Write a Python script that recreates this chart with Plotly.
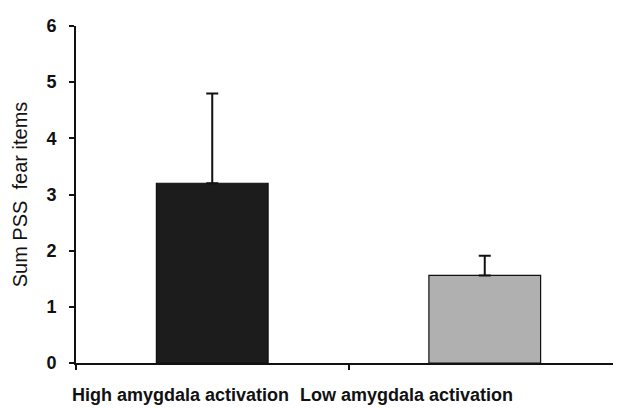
import plotly.graph_objects as go

categories = ["High amygdala activation", "Low amygdala activation"]
means = [3.2, 1.56]
errors_up = [1.6, 0.35]
bar_colors = ["#1c1c1c", "#b0b0b0"]
y_ticks = [0, 1, 2, 3, 4, 5, 6]
label_shifts = [-32, -78]

fig = go.Figure()
fig.add_trace(go.Bar(
    x=categories, y=means, width=0.41,
    marker=dict(color=bar_colors, line=dict(color="#111111", width=1.2)),
    error_y=dict(type="data", array=errors_up, arrayminus=[0, 0], symmetric=False,
                 color="#111111", thickness=2, width=6),
    showlegend=False,
))

for cat, sh in zip(categories, label_shifts):
    fig.add_annotation(
        x=cat, xref="x", y=0, yref="paper", yanchor="top", yshift=-20,
        xshift=sh, text=cat, showarrow=False,
        font=dict(size=18, family="Liberation Sans, Arial, sans-serif",
                  weight="bold", color="#111111"),
    )

fig.update_layout(
    width=621, height=408,
    margin=dict(l=68, r=8, t=14, b=53),
    paper_bgcolor="white", plot_bgcolor="white",
    font=dict(family="Liberation Sans, Arial, sans-serif", color="#111111"),
)
fig.update_xaxes(
    range=[-0.5, 1.5], showline=True, linecolor="#111111", linewidth=2,
    ticks="outside", tickson="boundaries", ticklen=5, tickwidth=2, tickcolor="#111111",
    showticklabels=False, showgrid=False, zeroline=False,
)
fig.update_yaxes(
    range=[0, 6], tickvals=y_ticks, showline=True, linecolor="#111111", linewidth=2,
    ticks="outside", ticklen=5, tickwidth=2, tickcolor="#111111",
    tickfont=dict(size=18, weight="bold"), ticklabelstandoff=9,
    showgrid=False, zeroline=False,
    title=dict(text="Sum PSS  fear items", font=dict(size=20), standoff=13),
)

fig.write_html("out.html")
